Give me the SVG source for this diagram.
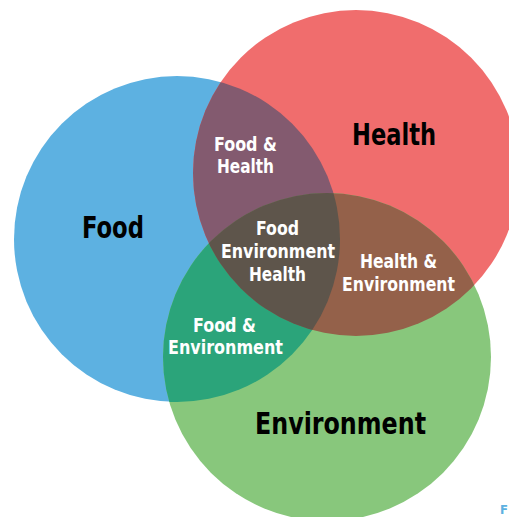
<svg xmlns="http://www.w3.org/2000/svg" width="509" height="517" viewBox="0 0 509 517">
<style>
.big{font-family:"DejaVu Sans Condensed","Liberation Sans",sans-serif;font-weight:bold;font-size:31px;fill:#000}
.sm{font-family:"DejaVu Sans Condensed","Liberation Sans",sans-serif;font-weight:bold;font-size:19px;fill:#fff}
</style>
<defs>
<clipPath id="cH"><circle cx="356" cy="173" r="163"/></clipPath>
<clipPath id="cE"><circle cx="327" cy="357" r="164"/></clipPath>
</defs>
<rect width="509" height="517" fill="#fff"/>
<g id="food"><circle cx="177" cy="239" r="163" fill="#5DB1E1"/></g>
<g id="health"><circle cx="356" cy="173" r="163" fill="#F06D6D"/></g>
<g id="environment"><circle cx="327" cy="357" r="164" fill="#88C77C"/></g>
<g id="food-health"><circle cx="177" cy="239" r="163" fill="#835A6F" clip-path="url(#cH)"/></g>
<g id="food-env"><circle cx="177" cy="239" r="163" fill="#2BA47A" clip-path="url(#cE)"/></g>
<g id="health-env"><circle cx="356" cy="173" r="163" fill="#94614A" clip-path="url(#cE)"/></g>
<g id="all" clip-path="url(#cE)"><circle cx="177" cy="239" r="163" fill="#5E554B" clip-path="url(#cH)"/></g>
<g id="labels">
<text class="big" x="82" y="238" textLength="62" lengthAdjust="spacingAndGlyphs">Food</text>
<text class="big" x="352" y="145" textLength="84" lengthAdjust="spacingAndGlyphs">Health</text>
<text class="big" x="255" y="434" textLength="171" lengthAdjust="spacingAndGlyphs">Environment</text>
<text class="sm" x="214" y="151" textLength="63" lengthAdjust="spacingAndGlyphs">Food &amp;</text>
<text class="sm" x="217" y="173" textLength="57" lengthAdjust="spacingAndGlyphs">Health</text>
<text class="sm" x="256" y="235" textLength="43" lengthAdjust="spacingAndGlyphs">Food</text>
<text class="sm" x="221" y="258" textLength="114" lengthAdjust="spacingAndGlyphs">Environment</text>
<text class="sm" x="249" y="281" textLength="57" lengthAdjust="spacingAndGlyphs">Health</text>
<text class="sm" x="360" y="268" textLength="77" lengthAdjust="spacingAndGlyphs">Health &amp;</text>
<text class="sm" x="342" y="291" textLength="113" lengthAdjust="spacingAndGlyphs">Environment</text>
<text class="sm" x="193" y="332" textLength="63" lengthAdjust="spacingAndGlyphs">Food &amp;</text>
<text class="sm" x="168" y="354" textLength="115" lengthAdjust="spacingAndGlyphs">Environment</text>
<text x="500" y="514" style="font-family:'DejaVu Sans Condensed','Liberation Sans',sans-serif;font-weight:bold;font-size:13px;fill:#5DB1E1">F</text>
</g>
</svg>
